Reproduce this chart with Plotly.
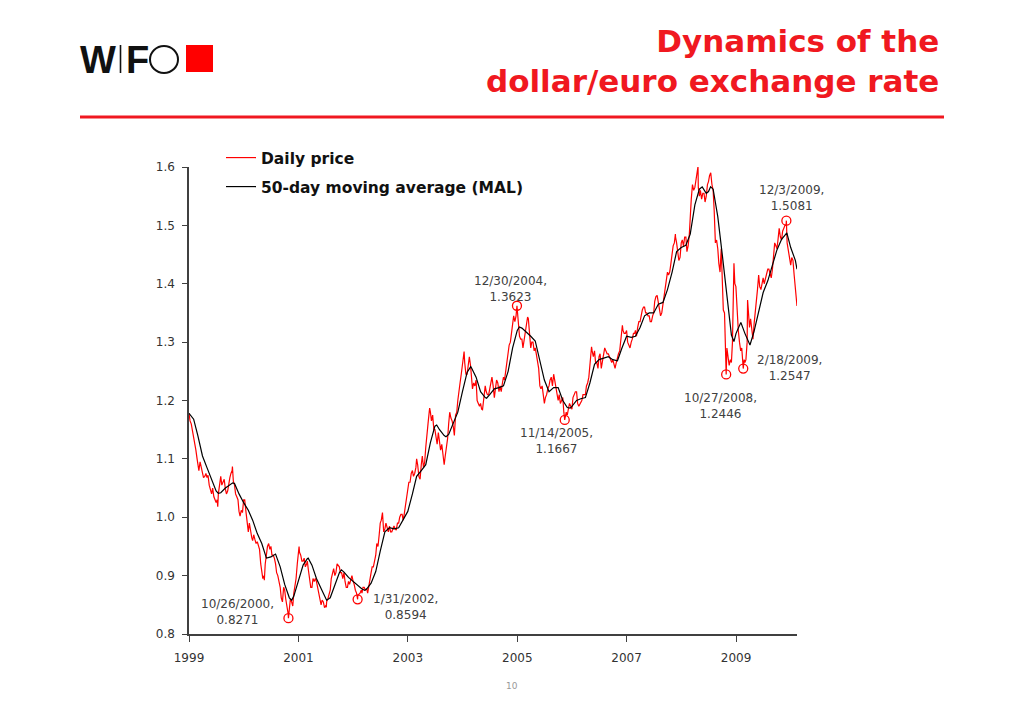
import plotly.graph_objects as go

# ---------------- data ----------------
# Daily price, sampled on the 1st and 16th of each month
p1999 = [1.178, 1.160, 1.135, 1.115, 1.090, 1.095, 1.080, 1.070, 1.068, 1.055, 1.040, 1.035,
         1.025, 1.040, 1.070, 1.060, 1.048, 1.045, 1.068, 1.080, 1.055, 1.035, 1.010, 1.012]
p2000 = [1.030, 1.010, 0.975, 0.975, 0.960, 0.962, 0.958, 0.945, 0.910, 0.900, 0.935, 0.955,
         0.950, 0.935, 0.920, 0.900, 0.880, 0.855, 0.875, 0.850, 0.845, 0.855, 0.870, 0.895]
p2001 = [0.940, 0.935, 0.925, 0.915, 0.925, 0.895, 0.880, 0.890, 0.890, 0.875, 0.850, 0.855,
         0.848, 0.860, 0.875, 0.905, 0.900, 0.920, 0.915, 0.905, 0.905, 0.880, 0.890, 0.895]
p2002 = [0.890, 0.875, 0.865, 0.870, 0.870, 0.880, 0.878, 0.885, 0.905, 0.915, 0.935, 0.950,
         0.990, 1.008, 0.980, 0.980, 0.985, 0.975, 0.985, 0.978, 0.990, 1.005, 0.995, 1.020]
p2003 = [1.045, 1.060, 1.080, 1.075, 1.100, 1.070, 1.090, 1.085, 1.120, 1.160, 1.180, 1.175,
         1.150, 1.125, 1.130, 1.125, 1.090, 1.120, 1.160, 1.170, 1.155, 1.175, 1.200, 1.230]
p2004 = [1.260, 1.265, 1.245, 1.275, 1.240, 1.230, 1.235, 1.195, 1.195, 1.190, 1.225, 1.210,
         1.220, 1.240, 1.205, 1.235, 1.215, 1.215, 1.240, 1.250, 1.280, 1.300, 1.330, 1.335]
p2005 = [1.355, 1.310, 1.305, 1.305, 1.320, 1.340, 1.290, 1.300, 1.290, 1.270, 1.225, 1.225,
         1.195, 1.210, 1.225, 1.240, 1.245, 1.225, 1.200, 1.195, 1.205, 1.170, 1.175, 1.195]
p2006 = [1.185, 1.210, 1.215, 1.190, 1.195, 1.210, 1.210, 1.230, 1.265, 1.285, 1.285, 1.265,
         1.275, 1.255, 1.280, 1.285, 1.280, 1.270, 1.270, 1.255, 1.275, 1.285, 1.325, 1.315]
p2007 = [1.320, 1.295, 1.300, 1.315, 1.320, 1.325, 1.335, 1.355, 1.360, 1.350, 1.345, 1.335,
         1.350, 1.378, 1.370, 1.345, 1.365, 1.390, 1.420, 1.420, 1.450, 1.470, 1.470, 1.440]
p2008 = [1.470, 1.465, 1.480, 1.465, 1.520, 1.570, 1.565, 1.590, 1.550, 1.545, 1.555, 1.550,
         1.575, 1.590, 1.560, 1.470, 1.460, 1.420, 1.400, 1.350, 1.290, 1.260, 1.265, 1.400]
p2009 = [1.390, 1.320, 1.285, 1.265, 1.265, 1.300, 1.325, 1.315, 1.330, 1.365, 1.415, 1.390,
         1.410, 1.410, 1.425, 1.415, 1.425, 1.470, 1.460, 1.495, 1.475, 1.495, 1.500, 1.455]
p2010 = [1.432, 1.440, 1.390]

# Daily price, sampled on the 8th and 24th of each month
q1999 = [1.165, 1.150, 1.125, 1.100, 1.080, 1.085, 1.068, 1.075, 1.072, 1.048, 1.050, 1.030,
         1.030, 1.060, 1.055, 1.065, 1.040, 1.060, 1.075, 1.062, 1.040, 1.030, 1.002, 1.008]
q2000 = [1.030, 0.985, 0.990, 0.965, 0.970, 0.955, 0.950, 0.920, 0.895, 0.920, 0.950, 0.945,
         0.935, 0.930, 0.905, 0.890, 0.862, 0.880, 0.860, 0.835, 0.860, 0.848, 0.880, 0.920]
q2001 = [0.940, 0.925, 0.930, 0.920, 0.910, 0.880, 0.895, 0.895, 0.880, 0.860, 0.858, 0.845,
         0.855, 0.870, 0.895, 0.912, 0.905, 0.918, 0.905, 0.895, 0.890, 0.880, 0.885, 0.900]
q2002 = [0.885, 0.870, 0.868, 0.875, 0.880, 0.875, 0.870, 0.895, 0.915, 0.925, 0.955, 0.970,
         0.995, 0.975, 0.990, 0.975, 0.975, 0.980, 0.980, 0.990, 1.000, 1.005, 1.005, 1.035]
q2003 = [1.060, 1.075, 1.070, 1.085, 1.090, 1.065, 1.105, 1.095, 1.145, 1.180, 1.165, 1.150,
         1.140, 1.145, 1.115, 1.100, 1.105, 1.135, 1.180, 1.165, 1.140, 1.180, 1.220, 1.245]
q2004 = [1.270, 1.245, 1.265, 1.260, 1.220, 1.225, 1.200, 1.190, 1.185, 1.205, 1.215, 1.210,
         1.235, 1.225, 1.220, 1.230, 1.225, 1.230, 1.235, 1.270, 1.295, 1.320, 1.345, 1.345]
q2005 = [1.330, 1.305, 1.290, 1.320, 1.335, 1.305, 1.300, 1.285, 1.280, 1.255, 1.220, 1.210,
         1.205, 1.220, 1.235, 1.225, 1.235, 1.210, 1.210, 1.200, 1.180, 1.180, 1.185, 1.190]
q2006 = [1.205, 1.215, 1.195, 1.195, 1.200, 1.210, 1.225, 1.240, 1.280, 1.275, 1.265, 1.255,
         1.280, 1.270, 1.290, 1.280, 1.275, 1.265, 1.260, 1.265, 1.280, 1.310, 1.320, 1.315]
q2007 = [1.300, 1.290, 1.305, 1.315, 1.310, 1.335, 1.345, 1.360, 1.350, 1.345, 1.335, 1.345,
         1.370, 1.380, 1.360, 1.350, 1.380, 1.410, 1.415, 1.435, 1.465, 1.480, 1.455, 1.445]
q2008 = [1.475, 1.480, 1.455, 1.485, 1.545, 1.560, 1.575, 1.565, 1.560, 1.555, 1.540, 1.570,
         1.585, 1.570, 1.525, 1.475, 1.435, 1.460, 1.355, 1.275, 1.270, 1.270, 1.300, 1.400]
q2009 = [1.345, 1.300, 1.290, 1.270, 1.270, 1.355, 1.340, 1.305, 1.345, 1.390, 1.395, 1.405,
         1.400, 1.420, 1.425, 1.410, 1.445, 1.465, 1.475, 1.480, 1.490, 1.500, 1.470, 1.440]
q2010 = [1.445, 1.415, 1.375]

price_years = [1999, 2000, 2001, 2002, 2003, 2004, 2005, 2006, 2007, 2008, 2009, 2010]
price_lists = [p1999, p2000, p2001, p2002, p2003, p2004, p2005, p2006, p2007, p2008, p2009, p2010]
price_lists_b = [q1999, q2000, q2001, q2002, q2003, q2004, q2005, q2006, q2007, q2008, q2009,
                 q2010]

# Extra daily-price points (local swings)
price_extra_dates = ["1999-07-12", "1999-10-18", "2000-05-18", "2001-01-05", "2001-07-06",
                     "2003-05-27", "2004-01-12", "2004-05-14", "2005-03-11", "2006-05-12",
                     "2006-12-04", "2007-11-23", "2008-12-18", "2008-12-31", "2009-03-19",
                     "2010-02-12"]
price_extra_values = [1.018, 1.087, 0.892, 0.950, 0.846,
                      1.187, 1.284, 1.184, 1.343, 1.292,
                      1.329, 1.485, 1.435, 1.395, 1.372,
                      1.362]

# 50-day moving average, sampled on the 1st of each month
ma1999 = [1.178, 1.168, 1.140, 1.105, 1.085, 1.065, 1.045, 1.042, 1.050, 1.055, 1.058, 1.040]
ma2000 = [1.025, 1.012, 0.995, 0.972, 0.955, 0.930, 0.932, 0.937, 0.915, 0.885, 0.862, 0.865]
ma2001 = [0.890, 0.918, 0.929, 0.918, 0.895, 0.878, 0.860, 0.862, 0.885, 0.905, 0.906, 0.897]
ma2002 = [0.890, 0.884, 0.877, 0.877, 0.887, 0.907, 0.942, 0.975, 0.982, 0.980, 0.982, 0.995]
ma2003 = [1.010, 1.040, 1.070, 1.080, 1.090, 1.128, 1.156, 1.150, 1.140, 1.142, 1.160, 1.180]
ma2004 = [1.215, 1.248, 1.256, 1.240, 1.215, 1.205, 1.210, 1.220, 1.222, 1.225, 1.250, 1.290]
ma2005 = [1.320, 1.324, 1.318, 1.310, 1.302, 1.270, 1.235, 1.215, 1.222, 1.222, 1.200, 1.188]
ma2006 = [1.190, 1.200, 1.203, 1.205, 1.230, 1.262, 1.270, 1.272, 1.275, 1.270, 1.268, 1.290]
ma2007 = [1.310, 1.308, 1.310, 1.325, 1.345, 1.350, 1.350, 1.365, 1.368, 1.390, 1.420, 1.455]
ma2008 = [1.462, 1.466, 1.485, 1.535, 1.562, 1.560, 1.558, 1.562, 1.515, 1.450, 1.385, 1.312]
ma2009 = [1.315, 1.333, 1.315, 1.296, 1.318, 1.355, 1.385, 1.405, 1.432, 1.458, 1.476, 1.485]
ma2010 = [1.462, 1.440]
ma_lists = [ma1999, ma2000, ma2001, ma2002, ma2003, ma2004, ma2005, ma2006, ma2007, ma2008,
            ma2009, ma2010]

ma_extra_dates = ["1999-07-16", "1999-10-20", "2000-11-17", "2001-03-07", "2001-07-08",
                  "2001-10-15", "2002-03-20", "2003-07-13", "2003-09-13", "2004-02-25",
                  "2004-06-10", "2005-01-15", "2005-12-20", "2008-05-20", "2008-06-16",
                  "2008-07-15", "2008-12-18", "2009-02-03", "2009-04-04", "2009-12-06",
                  "2010-02-12"]
ma_extra_values = [1.041, 1.059, 0.858, 0.930, 0.858,
                   0.910, 0.875, 1.158, 1.138, 1.258,
                   1.204, 1.326, 1.187, 1.566, 1.555,
                   1.566, 1.301, 1.333, 1.295, 1.487,
                   1.425]

# Marked extremes
mark_dates = ["2000-10-26", "2002-01-31", "2004-12-30", "2005-11-14",
              "2008-04-22", "2008-10-27", "2009-02-18", "2009-12-03"]
mark_values = [0.8271, 0.8594, 1.3623, 1.1667, 1.601, 1.2446, 1.2547, 1.5081]
mark_labels = ["10/26/2000,<br>0.8271", "1/31/2002,<br>0.8594", "12/30/2004,<br>1.3623",
               "11/14/2005,<br>1.1667", "4/22/2008,<br>1.601", "10/27/2008,<br>1.2446",
               "2/18/2009,<br>1.2547", "12/3/2009,<br>1.5081"]

y_ticks = [0.8, 0.9, 1.0, 1.1, 1.2, 1.3, 1.4, 1.5, 1.6]
x_tick_years = [1999, 2001, 2003, 2005, 2007, 2009]

title_lines = ["Dynamics of the", "dollar/euro exchange rate"]
series_names = ["Daily price", "50-day moving average (MAL)"]

# ---------------- build series ----------------
price_pts = []
for yr, vals in zip(price_years, price_lists):
    for i, v in enumerate(vals):
        price_pts.append((f"{yr}-{i // 2 + 1:02d}-{'01' if i % 2 == 0 else '16'}", v))
for yr, vals in zip(price_years, price_lists_b):
    for i, v in enumerate(vals):
        price_pts.append((f"{yr}-{i // 2 + 1:02d}-{'08' if i % 2 == 0 else '24'}", v))
price_pts += list(zip(price_extra_dates, price_extra_values))
price_pts += list(zip(mark_dates, mark_values))
price_pts.sort(key=lambda t: t[0])

ma_pts = []
for yr, vals in zip(price_years, ma_lists):
    for i, v in enumerate(vals):
        ma_pts.append((f"{yr}-{i + 1:02d}-01", v))
ma_pts += list(zip(ma_extra_dates, ma_extra_values))
ma_pts.sort(key=lambda t: t[0])

# ---------------- layout helpers ----------------
OFF = 8  # page body margin of the browser
W, H = 1024 - OFF, 709 - OFF
ML, MT = 189 - OFF, 167 - OFF
PW, PH = 608, 467
MR, MB = W - ML - PW, H - MT - PH


def px(x):
    return (x - OFF - ML) / PW


def py(y):
    return (MT + PH - (y - OFF)) / PH


RED = "#f01820"
FONT = "DejaVu Sans"
TXT = "#404040"

fig = go.Figure()
fig.add_trace(go.Scatter(
    x=[d for d, _ in price_pts], y=[v for _, v in price_pts], mode="lines",
    name=series_names[0], line=dict(color="#ff0000", width=1.2), legend="legend"))
fig.add_trace(go.Scatter(
    x=[d for d, _ in ma_pts], y=[v for _, v in ma_pts], mode="lines",
    name=series_names[1], line=dict(color="#000000", width=1.2), legend="legend2"))
fig.add_trace(go.Scatter(
    x=mark_dates, y=mark_values, mode="markers", showlegend=False, cliponaxis=False,
    marker=dict(symbol="circle-open", size=9, color="#ff0000", line=dict(width=1.3))))

# label offsets (pixels) relative to each marker
label_dx = [-51, 48, -6, -8, -45, -6, 46, 5]
label_dy = [-6, 8, -17, 21, -4, 32, -1, -23]

annotations = []
for d, v, t, dx, dy in zip(mark_dates, mark_values, mark_labels, label_dx, label_dy):
    annotations.append(dict(x=d, y=v, xref="x", yref="y", text=t, showarrow=True,
                            ax=dx, ay=dy, arrowcolor="rgba(0,0,0,0)", arrowwidth=0.1,
                            font=dict(family=FONT, size=12, color=TXT), align="center"))

# title
annotations.append(dict(x=px(941), y=py(61), xref="paper", yref="paper",
                        xanchor="right", yanchor="middle", showarrow=False, align="right",
                        text="<br>".join(title_lines),
                        font=dict(family=FONT, size=31, color=RED, weight="bold")))
# logo letters
annotations.append(dict(x=px(78), y=py(60), xref="paper", yref="paper", xanchor="left",
                        yanchor="middle", showarrow=False, text="W",
                        font=dict(family="Liberation Sans", size=38, color="#111111",
                                  weight="bold")))
annotations.append(dict(x=px(124), y=py(60), xref="paper", yref="paper", xanchor="left",
                        yanchor="middle", showarrow=False, text="F",
                        font=dict(family="Liberation Sans", size=38, color="#111111",
                                  weight="bold")))
# page number
annotations.append(dict(x=px(512), y=py(686), xref="paper", yref="paper", xanchor="center",
                        yanchor="middle", showarrow=False, text="10",
                        font=dict(family=FONT, size=9, color="#999999")))

shapes = [
    dict(type="line", xref="paper", yref="paper", x0=px(80), x1=px(944), y0=py(117),
         y1=py(117), line=dict(color=RED, width=3)),
    dict(type="line", xref="paper", yref="paper", x0=px(120.5), x1=px(120.5), y0=py(45),
         y1=py(73), line=dict(color="#111111", width=1.6)),
    dict(type="circle", xref="paper", yref="paper", x0=px(150), x1=px(178), y0=py(46),
         y1=py(73), line=dict(color="#111111", width=2)),
    dict(type="rect", xref="paper", yref="paper", x0=px(186), x1=px(213), y0=py(45),
         y1=py(72), line=dict(width=0), fillcolor="#ff0000"),
]

fig.update_layout(
    width=W, height=H, margin=dict(l=ML, r=MR, t=MT, b=MB),
    paper_bgcolor="white", plot_bgcolor="white",
    font=dict(family=FONT, size=12, color=TXT),
    showlegend=True,
    legend=dict(x=px(221), y=py(141), xanchor="left", yanchor="top",
                bgcolor="rgba(0,0,0,0)", borderwidth=0,
                font=dict(family=FONT, size=15.5, color="#111111", weight="bold")),
    legend2=dict(x=px(221), y=py(170), xanchor="left", yanchor="top",
                 bgcolor="rgba(0,0,0,0)", borderwidth=0,
                 font=dict(family=FONT, size=15.5, color="#111111", weight="bold")),
    annotations=annotations, shapes=shapes,
    xaxis=dict(type="date", range=["1999-01-01", "2010-02-12"],
               tickvals=[f"{y}-01-01" for y in x_tick_years],
               ticktext=[str(y) for y in x_tick_years],
               ticks="outside", ticklen=6, tickwidth=1, tickcolor="#404040",
               ticklabelstandoff=6,
               showline=True, linecolor="#404040", linewidth=1.5, showgrid=False,
               zeroline=False, tickfont=dict(family=FONT, size=12, color="#333333")),
    yaxis=dict(range=[0.8, 1.6], tickvals=y_ticks, ticktext=[f"{v:.1f}" for v in y_ticks],
               ticks="outside", ticklen=5, tickwidth=1, tickcolor="#404040",
               ticklabelstandoff=5,
               showline=True, linecolor="#404040", linewidth=1.5, showgrid=False,
               zeroline=False, tickfont=dict(family=FONT, size=12, color="#333333")),
)

fig.write_html("out.html")
